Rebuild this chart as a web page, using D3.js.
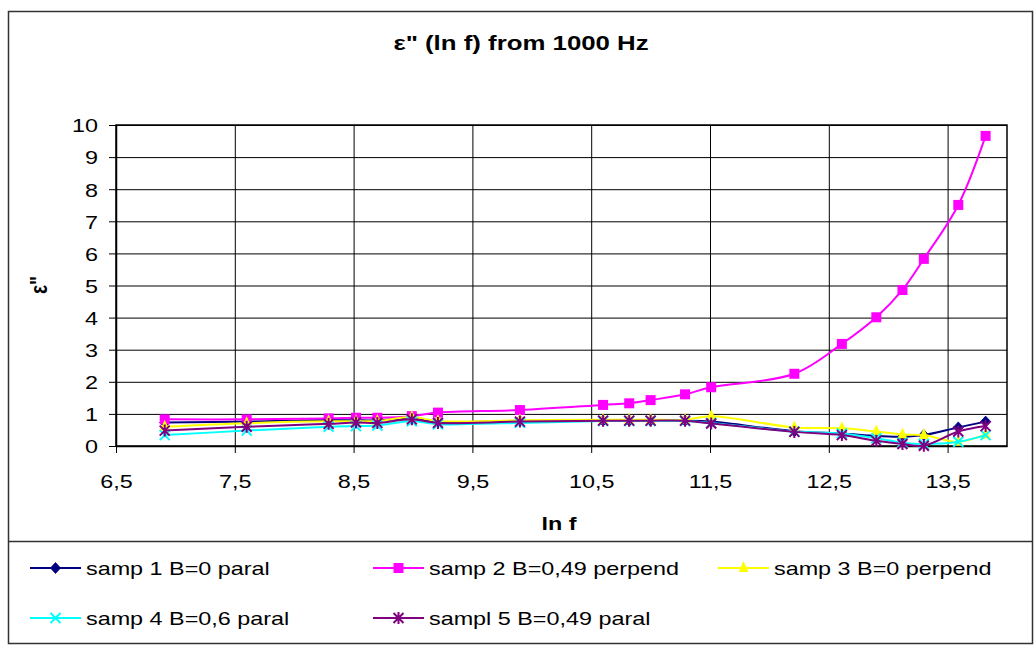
<!DOCTYPE html>
<html>
<head>
<meta charset="utf-8">
<script src="https://cdn.jsdelivr.net/npm/d3@7"></script>
<style>
  html, body { margin: 0; padding: 0; background: #fff; }
  svg { display: block; }
  text { font-family: "Liberation Sans", Arial, sans-serif; fill: #000; }
</style>
</head>
<body>
<svg id="chart" width="1035" height="646"></svg>
<script>
// ln f of the measurement frequencies (1 kHz … 1 MHz)
const lnF = [6.91, 7.60, 8.29, 8.52, 8.70, 8.99, 9.21, 9.90, 10.60, 10.82,
             11.00, 11.29, 11.51, 12.21, 12.61, 12.90, 13.12, 13.30, 13.59, 13.82];

// ε'' for each sample
const samp1 = [0.73, 0.76, 0.81, 0.80, 0.80, 0.85, 0.75, 0.78, 0.79, 0.79,
               0.79, 0.79, 0.76, 0.46, 0.39, 0.31, 0.29, 0.34, 0.58, 0.76];
const samp2 = [0.83, 0.83, 0.86, 0.88, 0.88, 0.93, 1.04, 1.12, 1.28, 1.33,
               1.43, 1.61, 1.83, 2.25, 3.18, 4.01, 4.86, 5.83, 7.51, 9.66];
const samp3 = [0.60, 0.71, 0.77, 0.77, 0.78, 0.90, 0.78, 0.80, 0.82, 0.82,
               0.82, 0.82, 0.93, 0.58, 0.55, 0.45, 0.36, 0.34, 0.13, 0.36];
const samp4 = [0.34, 0.48, 0.60, 0.62, 0.64, 0.77, 0.68, 0.72, 0.78, 0.78,
               0.78, 0.78, 0.72, 0.45, 0.39, 0.24, 0.10, 0.06, 0.13, 0.34];
const samp5 = [0.48, 0.60, 0.69, 0.73, 0.72, 0.83, 0.72, 0.76, 0.79, 0.79,
               0.79, 0.79, 0.70, 0.44, 0.34, 0.16, 0.06, 0.01, 0.45, 0.62];

const seriesNames = ["samp 1 B=0 paral", "samp 2 B=0,49 perpend", "samp 3 B=0 perpend",
                     "samp 4 B=0,6 paral", "sampl 5 B=0,49 paral"];
const seriesValues = [samp1, samp2, samp3, samp4, samp5];

const xTicks = [6.5, 7.5, 8.5, 9.5, 10.5, 11.5, 12.5, 13.5];
const yTicks = [0, 1, 2, 3, 4, 5, 6, 7, 8, 9, 10];

const titleText = "ε\" (ln f) from 1000 Hz";
const xTitle = "ln f";
const yTitle = "ε\"";

// appearance
const colors = ["#000080", "#FF00FF", "#FFFF00", "#00FFFF", "#800080"];
const markers = ["diamond", "square", "triangle", "cross", "star"];
const SX = 1.23;             // horizontal stretch of all lettering
const FONT = 19;

const svg = d3.select("#chart");

const plot = { left: 116, right: 1007, top: 125, bottom: 446 };

const x = d3.scaleLinear().domain([6.5, 14]).range([plot.left, plot.right]);
const y = d3.scaleLinear().domain([0, 10]).range([plot.bottom, plot.top]);

const commaFmt = v => d3.format(".1f")(v).replace(".", ",");

// outer frame
svg.append("rect")
  .attr("x", 8.5).attr("y", 11.5).attr("width", 1024).attr("height", 632)
  .attr("fill", "#fff").attr("stroke", "#333").attr("stroke-width", 1.5);

// legend separator
svg.append("line")
  .attr("x1", 8.5).attr("x2", 1032.5).attr("y1", 541.5).attr("y2", 541.5)
  .attr("stroke", "#333").attr("stroke-width", 1.5);

// stretched text helper
function sText(g, str, px, py, anchor, bold, size, sx) {
  return g.append("text")
    .attr("transform", `translate(${px},${py}) scale(${sx || SX},1)`)
    .attr("text-anchor", anchor || "start")
    .style("font-size", (size || FONT) + "px")
    .style("font-weight", bold ? "bold" : "normal")
    .text(str);
}

// title
sText(svg, titleText, 521, 50, "middle", true, 20, 1.29);

// gridlines
const grid = svg.append("g");
grid.append("g")
  .attr("transform", `translate(0,${plot.bottom})`)
  .call(d3.axisBottom(x).tickValues(xTicks).tickSize(-(plot.bottom - plot.top)).tickFormat(""))
  .call(g => g.select(".domain").remove())
  .call(g => g.selectAll("line").attr("stroke", "#000").attr("stroke-width", 1));
grid.append("g")
  .attr("transform", `translate(${plot.left},0)`)
  .call(d3.axisLeft(y).tickValues(yTicks).tickSize(-(plot.right - plot.left)).tickFormat(""))
  .call(g => g.select(".domain").remove())
  .call(g => g.selectAll("line").attr("stroke", "#000").attr("stroke-width", 1));

// plot frame
svg.append("rect")
  .attr("x", plot.left).attr("y", plot.top)
  .attr("width", plot.right - plot.left).attr("height", plot.bottom - plot.top)
  .attr("fill", "none").attr("stroke", "#000").attr("stroke-width", 1.5);

// axes
const xAxis = svg.append("g")
  .attr("transform", `translate(0,${plot.bottom})`)
  .call(d3.axisBottom(x).tickValues(xTicks).tickSize(7).tickSizeOuter(0).tickFormat(commaFmt));
xAxis.select(".domain").attr("stroke", "#000").attr("stroke-width", 1.5);
xAxis.selectAll(".tick line").attr("stroke", "#000");
xAxis.selectAll(".tick text")
  .attr("y", 0).attr("dy", 0)
  .attr("transform", `translate(0,42) scale(${SX},1)`)
  .style("font-size", FONT + "px").style("font-family", "Liberation Sans, Arial, sans-serif");

const yAxis = svg.append("g")
  .attr("transform", `translate(${plot.left},0)`)
  .call(d3.axisLeft(y).tickValues(yTicks).tickSize(7).tickSizeOuter(0));
yAxis.select(".domain").attr("stroke", "#000").attr("stroke-width", 1.5);
yAxis.selectAll(".tick line").attr("stroke", "#000");
yAxis.selectAll(".tick text")
  .attr("x", 0).attr("dy", "0.36em")
  .attr("transform", `translate(-18,0) scale(${SX},1)`)
  .style("font-size", FONT + "px").style("font-family", "Liberation Sans, Arial, sans-serif");

// axis titles
sText(svg, xTitle, 559, 530, "middle", true);
svg.append("text")
  .attr("transform", `translate(47,285) scale(${SX},1) rotate(-90)`)
  .attr("text-anchor", "middle")
  .style("font-size", FONT + "px").style("font-weight", "bold")
  .text(yTitle);

// marker shapes
function drawMarker(g, type, color) {
  switch (type) {
    case "diamond":
      g.append("path").attr("d", "M0,-5.5L5,0L0,5.5L-5,0Z")
        .attr("fill", color).attr("stroke", color).attr("stroke-width", 0.8);
      break;
    case "square":
      g.append("rect").attr("x", -5).attr("y", -5).attr("width", 10).attr("height", 10)
        .attr("fill", color);
      break;
    case "triangle":
      g.append("path").attr("d", "M0,-7L5,4L-5,4Z").attr("fill", color);
      break;
    case "cross":
      g.append("path").attr("d", "M-5,-5L5,5M-5,5L5,-5")
        .attr("stroke", color).attr("stroke-width", 2).attr("fill", "none");
      break;
    case "star":
      g.append("path").attr("d", "M-5,-5L5,5M-5,5L5,-5M0,-6L0,6")
        .attr("stroke", color).attr("stroke-width", 2).attr("fill", "none");
      break;
  }
}

const line = d3.line()
  .x(d => x(d[0])).y(d => y(d[1]))
  .curve(d3.curveCatmullRom.alpha(0.5));

const series = svg.append("g");
seriesValues.forEach((vals, i) => {
  const pts = lnF.map((f, k) => [f, vals[k]]);
  const g = series.append("g");
  g.append("path").datum(pts)
    .attr("d", line)
    .attr("fill", "none").attr("stroke", colors[i]).attr("stroke-width", 2);
  pts.forEach(p => {
    const m = g.append("g").attr("transform", `translate(${x(p[0])},${y(p[1])})`);
    drawMarker(m, markers[i], colors[i]);
  });
});

// legend
const legendPos = [
  { lx: 30, tx: 86, y: 568 }, { lx: 373, tx: 429, y: 568 }, { lx: 718, tx: 774, y: 568 },
  { lx: 30, tx: 86, y: 618 }, { lx: 373, tx: 429, y: 618 }
];
const legend = svg.append("g");
seriesNames.forEach((name, i) => {
  const p = legendPos[i];
  legend.append("line")
    .attr("x1", p.lx).attr("x2", p.lx + 51).attr("y1", p.y).attr("y2", p.y)
    .attr("stroke", colors[i]).attr("stroke-width", 2);
  const m = legend.append("g").attr("transform", `translate(${p.lx + 25.5},${p.y})`);
  drawMarker(m, markers[i], colors[i]);
  sText(legend, name, p.tx, p.y + 7, "start", false);
});
</script>
</body>
</html>
